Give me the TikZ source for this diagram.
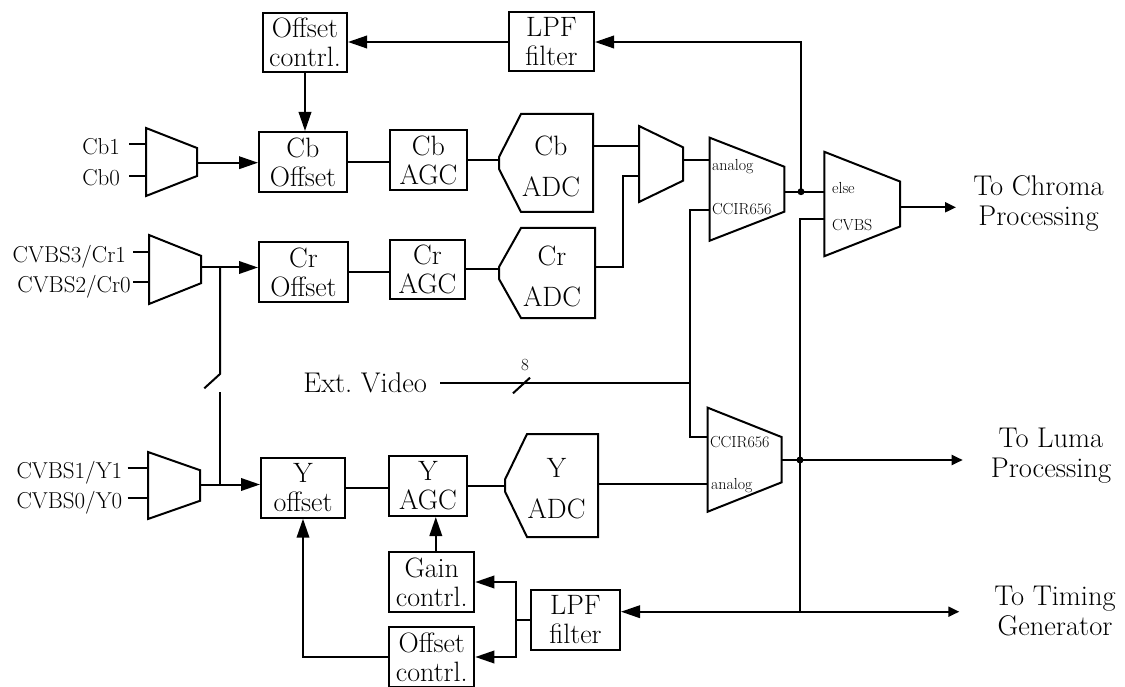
\documentclass[tikz,border=0pt]{standalone}
\usepackage{fontspec}
\usetikzlibrary{arrows.meta}
\newcommand\muxshape[6]{% name, left x, centre y, width, left half height, right half height
  \path (#2+#4/2,#3) node[inner sep=0pt, minimum width=#4pt, minimum height=2*#5pt] (#1) {};
  \draw (#2,#3-#5) -- (#2+#4,#3-#6) -- (#2+#4,#3+#6) -- (#2,#3+#5) -- cycle;
}
\newcommand\adcshape[6]{% name, L, R, T, B, text
  \draw (#2+22,#4) -- (#3,#4) -- (#3,#5) -- (#2+22,#5) -- (#2,{(#4+#5)/2+6}) -- (#2,{(#4+#5)/2-6}) -- cycle;
  \node[inner sep=0pt, align=center, font=\fontsize{28}{41}\selectfont] (#1) at ({(#2+#3)/2+5},{(#4+#5)/2+3}) {#6};
  \coordinate (#1-w) at (#2,{(#4+#5)/2});
}
\tikzset{
  box/.style={draw, inner sep=0pt, align=center, font=\fontsize{28}{29}\selectfont},
  big/.style={-{Triangle[length=19pt,width=12.5pt]}},
  sml/.style={-{Triangle[length=11pt,width=10pt]}},
  lbl/.style={inner sep=0pt, font=\fontsize{23}{26}\selectfont, anchor=base east},
  tiny/.style={inner sep=0pt, font=\fontsize{16}{18}\selectfont, anchor=west},
  txt/.style={inner sep=0pt, align=center, font=\fontsize{28.5}{30}\selectfont},
}
\begin{document}
\begin{tikzpicture}[x=1pt,y=-1pt,line width=2pt]
\path[fill=white] (0,0) rectangle (1125,687);
\useasboundingbox (0,0) rectangle (1125,687);

% multiplexers
\muxshape{mcb}{146}{162}{51}{34}{14}
\muxshape{mcr}{149}{269.5}{52}{34.5}{13.7}
\muxshape{my}{148}{485.5}{52}{33.5}{15.3}
\muxshape{mcc}{639}{164}{44}{38}{16.7}
\muxshape{msa}{709.7}{189.2}{74.6}{51.5}{22.5}
\muxshape{msb}{707.7}{459.7}{74}{52}{22.6}
\muxshape{mout}{824.3}{204}{75.7}{52.2}{22.5}

% ports
\coordinate (mcb-i1) at (146,144.3);   \coordinate (mcb-i2) at (146,175.7);   \coordinate (mcb-o) at (197,162.7);
\coordinate (mcr-i1) at (149,252.3);   \coordinate (mcr-i2) at (149,282.3);   \coordinate (mcr-o) at (201,267.5);
\coordinate (my-i1) at (148,467.7);    \coordinate (my-i2) at (148,497.7);    \coordinate (my-o) at (200,484.5);
\coordinate (mcc-i1) at (639,145.7);   \coordinate (mcc-i2) at (639,175.7);   \coordinate (mcc-o) at (683,160);
\coordinate (msa-i1) at (709.7,160);   \coordinate (msa-i2) at (709.7,210);   \coordinate (msa-o) at (784.3,191.7);
\coordinate (msb-i1) at (707.7,437);   \coordinate (msb-i2) at (707.7,484);   \coordinate (msb-o) at (781.7,460);
\coordinate (mout-i1) at (824.3,191.7);\coordinate (mout-i2) at (824.3,219.3);\coordinate (mout-o) at (900,207.3);

% boxes
\node[box, minimum width=84pt, minimum height=59pt] (oc1) at (305,42.5) {Offset\\contrl.};
\node[box, minimum width=85pt, minimum height=59pt] (lpf1) at (551.5,42) {LPF\\filter};
\node[box, minimum width=88pt, minimum height=60pt] (cboff) at (303,162) {Cb\\Offset};
\node[box, minimum width=77pt, minimum height=60pt] (cbagc) at (428.5,160) {Cb\\AGC};
\node[box, minimum width=89pt, minimum height=60pt] (croff) at (303.5,272) {Cr\\Offset};
\node[box, minimum width=75pt, minimum height=59pt] (cragc) at (427.5,269.5) {Cr\\AGC};
\node[box, minimum width=84pt, minimum height=60pt] (yoff) at (303,487.7) {Y\\offset};
\node[box, minimum width=77.5pt, minimum height=60pt] (yagc) at (428,486) {Y\\AGC};
\node[box, minimum width=85pt, minimum height=60.6pt] (gain) at (431.8,582) {Gain\\contrl.};
\node[box, minimum width=85pt, minimum height=59.4pt] (oc2) at (431.8,657) {Offset\\contrl.};
\node[box, minimum width=89pt, minimum height=60pt] (lpf2) at (575.5,620) {LPF\\filter};

% ADCs
\adcshape{cbadc}{499}{593}{114}{212}{Cb\\ADC}
\adcshape{cradc}{499}{595}{228}{318}{Cr\\ADC}
\adcshape{yadc}{505}{598}{434}{537}{Y\\ADC}
\coordinate (cbadc-o) at (593,145.7);
\coordinate (cradc-o) at (595,266.7);
\coordinate (yadc-o) at (598,484);

% input labels
\coordinate (cb1s) at (129,144.3);  \coordinate (cb0s) at (129,175.7);
\coordinate (cr1s) at (133.3,252.3); \coordinate (cr0s) at (133.3,282.3);
\coordinate (y1s) at (127.7,467.7);  \coordinate (y0s) at (127.7,497.7);
\node[lbl] (lcb1) at (121,155) {Cb1};
\node[lbl] (lcb0) at (121,186) {Cb0};
\node[lbl] (lcr1) at (127,262) {CVBS3/Cr1};
\node[lbl] (lcr0) at (131.7,293) {CVBS2/Cr0};
\node[lbl] (ly1) at (123.3,478) {CVBS1/Y1};
\node[lbl] (ly0) at (123.3,508) {CVBS0/Y0};
\draw (cb1s) -- (mcb-i1);
\draw (cb0s) -- (mcb-i2);
\draw (cr1s) -- (mcr-i1);
\draw (cr0s) -- (mcr-i2);
\draw (y1s) -- (my-i1);
\draw (y0s) -- (my-i2);

% mux labels
\node[tiny] (ta1) at (711,167) {analog};
\node[tiny] (ta2) at (711,209.5) {CCIR656};
\node[tiny] (tb1) at (709,442) {CCIR656};
\node[tiny] (tb2) at (710,486) {analog};
\node[tiny] (tc1) at (831,188) {else};
\node[tiny] (tc2) at (831,225) {CVBS};

% signal chain
\draw[big] (mcb-o) -- (mcb-o -| cboff.west);
\draw[big] (mcr-o) -- (mcr-o -| croff.west);
\draw[big] (my-o) -- (my-o -| yoff.west);
\draw (cboff.east) -- (cboff.east -| cbagc.west);
\draw (croff.east) -- (croff.east -| cragc.west);
\draw (yoff.east) -- (yoff.east -| yagc.west);
\draw (cbagc.east) -- (cbagc.east -| cbadc-w);
\draw (cragc.east) -- (cragc.east -| cradc-w);
\draw (yagc.east) -- (yagc.east -| yadc-w);
\coordinate (crbend) at (623.3,175.7);
\draw (cbadc-o) -- (mcc-i1);
\draw (cradc-o) -| (crbend) -- (mcc-i2);
\draw (mcc-o) -- (msa-i1);
\draw (yadc-o) -- (msb-i2);

% switch between Cr and Y inputs
\coordinate (swtop) at (220,267.5);
\coordinate (swa) at (220,374);
\coordinate (swb) at (204.3,388.3);
\coordinate (swc) at (220,392.3);
\coordinate (swbot) at (220,484.5);
\draw (swtop) -- (swa) -- (swb);
\draw (swc) -- (swbot);

% external video bus
\node[txt, anchor=east] (extv) at (428,383.3) {Ext.\ Video};
\coordinate (evs) at (440,383.3);
\coordinate (busj) at (690,383.3);
\coordinate (ccA) at (690,210);
\coordinate (ccB) at (690,437);
\draw (evs) -- (busj);
\draw (msa-i2) -- (ccA) -- (ccB) -- (msb-i1);
\coordinate (bs1) at (513,393.3);
\coordinate (bs2) at (530,377.7);
\draw (bs1) -- (bs2);
\node[inner sep=0pt, font=\fontsize{17}{20}\selectfont] (bw) at (525,365) {8};

% chroma path and top feedback
\coordinate (dot1) at (801,191.7);
\draw (msa-o) -- (mout-i1);
\draw[big] (dot1) |- (lpf1.east);
\draw[big] (lpf1.west) -- (lpf1.west -| oc1.east);
\draw[big] (oc1.south) -- (oc1.south |- cboff.north);
\fill (dot1) circle (3.5pt);
\coordinate (chromatip) at (956,207.3);
\draw[sml] (mout-o) -- (chromatip);
\node[txt] (chroma) at (1038.5,203) {To Chroma\\Processing};

% luma path and timing
\coordinate (dot2) at (800,460);
\coordinate (vtop) at (800,219.3);
\coordinate (vbot) at (800,611.7);
\coordinate (lumatip) at (962.7,460);
\coordinate (timtip) at (959.3,611.7);
\draw[sml] (msb-o) -- (lumatip);
\draw (mout-i2) -- (vtop) -- (vbot);
\fill (dot2) circle (3.5pt);
\draw[big] (vbot) -- (vbot -| lpf2.east);
\draw[sml] (vbot) -- (timtip);
\node[txt] (luma) at (1051,456) {To Luma\\Processing};
\node[txt] (timing) at (1055,611) {To Timing\\Generator};

% bottom feedback
\coordinate (bj) at (515.7,620);
\draw (lpf2.west) -- (bj);
\draw[big] (bj) |- (gain.east);
\draw[big] (bj) |- (oc2.east);
\draw[big] ([xshift=4pt]gain.north) -- ([xshift=4pt]gain.north |- yagc.south);
\draw[big] (oc2.west) -| (yoff.south);
\end{tikzpicture}
\end{document}
